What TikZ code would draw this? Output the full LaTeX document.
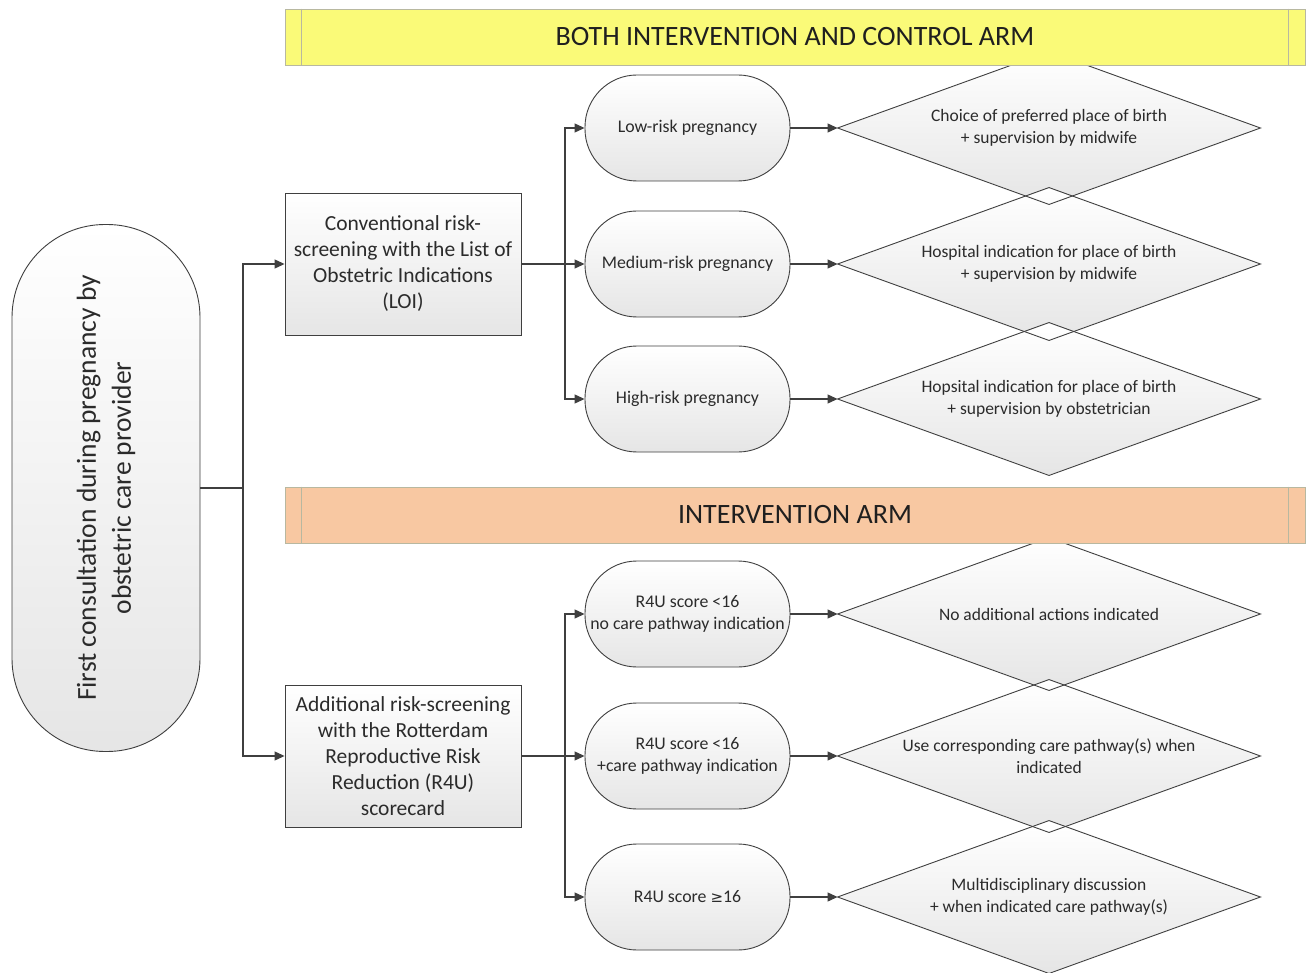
\documentclass[tikz,border=0pt]{standalone}
\usepackage{fontspec}
\setmainfont{Carlito}
\usetikzlibrary{shapes.geometric,shapes.misc,arrows.meta}
\definecolor{ln}{HTML}{3F3F3F}
\definecolor{tx}{HTML}{2B2B2B}
\definecolor{ylw}{HTML}{FAFA78}
\definecolor{org}{HTML}{F8C8A2}
\definecolor{bnd}{HTML}{B8B8A0}
\newcommand{\ctxt}[2]{\makebox[0pt]{\parbox[c]{#1}{\centering #2}}}
\begin{document}
\begin{tikzpicture}[x=1pt,y=-1pt,
  shd/.style={top color=white, bottom color=black!10, draw=ln, line width=0.9pt, text=tx},
  boxnode/.style={shd, rectangle, minimum width=236pt, minimum height=142pt, inner sep=0pt,
     font=\fontsize{21.5}{26}\selectfont},
  pill/.style={shd, rectangle, rounded corners=52pt, minimum width=205pt, minimum height=106pt,
     inner sep=0pt, font=\fontsize{17.8}{22}\selectfont},
  dtext/.style={text=tx, font=\fontsize{17.5}{22}\selectfont},
  dia/.style={shd, diamond, minimum width=422pt, minimum height=152pt, inner sep=0pt},
  banner/.style={rectangle, draw=bnd, line width=0.8pt, minimum width=1020pt, minimum height=56pt,
     inner sep=0pt, text=black!88, font=\fontsize{28}{32}\selectfont},
  ln/.style={draw=ln, line width=1.1pt},
  arr/.style={ln, -{Triangle[length=10pt,width=9pt]}}
]
\useasboundingbox (0,0) rectangle (1309,973);
\fill[white] (0,0) rectangle (1309,973);

% first consultation
\node[shd, rectangle, rounded corners=93pt, minimum width=188pt, minimum height=527pt, inner sep=0pt]
  (start) at (106,488)
  {\rotatebox{90}{\parbox{500pt}{\centering\fontsize{27.5}{35}\selectfont First consultation during pregnancy by\\ obstetric care provider}}};

% screening boxes
\node[boxnode] (box1) at (403,264) {\ctxt{240pt}{Conventional risk-\\screening with the List of\\Obstetric Indications\\(LOI)}};
\node[boxnode] (box2) at (403,756) {\ctxt{240pt}{Additional risk-screening\\with the Rotterdam\\Reproductive Risk\\Reduction (R4U)\\scorecard}};

% diamonds (fills first, outlines afterwards)
\foreach \n/\y in {d1/128,d2/264,d3/399,d4/614,d5/756,d6/897}{
  \node[dia, draw=none] (\n) at (1049,\y) {};
}
\foreach \n in {d1,d2,d3,d4,d5,d6}{
  \draw[ln, line width=0.9pt] (\n.north) -- (\n.east) -- (\n.south) -- (\n.west) -- cycle;
}
\node[dtext] (t1) at (d1) {\ctxt{360pt}{Choice of preferred place of birth\\+ supervision by midwife}};
\node[dtext] (t2) at (d2) {\ctxt{360pt}{Hospital indication for place of birth\\+ supervision by midwife}};
\node[dtext] (t3) at (d3) {\ctxt{360pt}{Hopsital indication for place of birth\\+ supervision by obstetrician}};
\node[dtext] (t4) at (d4) {\ctxt{360pt}{No additional actions indicated}};
\node[dtext] (t5) at (d5) {\ctxt{360pt}{Use corresponding care pathway(s) when\\indicated}};
\node[dtext] (t6) at (d6) {\ctxt{360pt}{Multidisciplinary discussion\\+ when indicated care pathway(s)}};

% pills
\node[pill] (p1) at (687.5,128) {\ctxt{220pt}{Low-risk pregnancy}};
\node[pill] (p2) at (687.5,264) {\ctxt{220pt}{Medium-risk pregnancy}};
\node[pill] (p3) at (687.5,399) {\ctxt{220pt}{High-risk pregnancy}};
\node[pill] (p4) at (687.5,614) {\ctxt{220pt}{R4U score <16\\no care pathway indication}};
\node[pill] (p5) at (687.5,756) {\ctxt{220pt}{R4U score <16\\+care pathway indication}};
\node[pill] (p6) at (687.5,897) {\ctxt{220pt}{R4U score {\fontspec{DejaVu Sans}\fontsize{15}{22}\selectfont≥}16}};

% banners
\node[banner, fill=ylw] (b1) at (795,37) {BOTH INTERVENTION AND CONTROL ARM};
\draw[draw=bnd, line width=0.8pt] ([xshift=17pt]b1.north west) -- ([xshift=17pt]b1.south west);
\draw[draw=bnd, line width=0.8pt] ([xshift=-17pt]b1.north east) -- ([xshift=-17pt]b1.south east);
\node[banner, fill=org] (b2) at (795,515) {INTERVENTION ARM};
\draw[draw=bnd, line width=0.8pt] ([xshift=17pt]b2.north west) -- ([xshift=17pt]b2.south west);
\draw[draw=bnd, line width=0.8pt] ([xshift=-17pt]b2.north east) -- ([xshift=-17pt]b2.south east);

% connectors
\coordinate (j1) at (243,488);
\draw[ln] (start.east) -- (j1);
\draw[arr] (j1) |- (box1.west);
\draw[arr] (j1) |- (box2.west);

\coordinate (j2) at (565,264);
\draw[ln] (box1.east) -- (j2);
\draw[arr] (j2) |- (p1.west);
\draw[arr] (j2) -- (p2.west);
\draw[arr] (j2) |- (p3.west);

\coordinate (j3) at (565,756);
\draw[ln] (box2.east) -- (j3);
\draw[arr] (j3) |- (p4.west);
\draw[arr] (j3) -- (p5.west);
\draw[arr] (j3) |- (p6.west);

\foreach \i in {1,...,6}{
  \draw[arr] (p\i.east) -- (d\i.west);
}
\end{tikzpicture}
\end{document}
